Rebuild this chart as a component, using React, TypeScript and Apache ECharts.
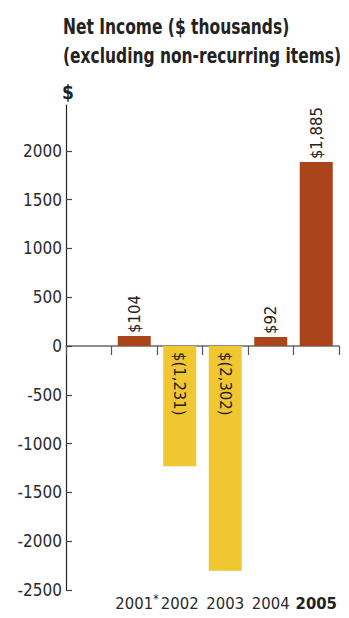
import React, { useEffect, useRef } from "react";
import * as echarts from "echarts";

const categories = ["", "2001", "2002", "2003", "2004", "2005"];
const netIncome: (number | null)[] = [null, 104, -1231, -2302, 92, 1885];
const yTickValues = [-2500, -2000, -1500, -1000, -500, 0, 500, 1000, 1500, 2000];
const titleLines = ["Net Income ($ thousands)", "(excluding non-recurring items)"];
const unitLabel = "$";

const FONT = "'DejaVu Sans Condensed', 'Liberation Sans Narrow', sans-serif";
const POS_COLOR = "#A9441B";
const NEG_COLOR = "#F0C631";
const TEXT = "#2a2a2a";

function fmtMoney(v: number): string {
  const abs = Math.abs(v).toLocaleString("en-US");
  return v < 0 ? `$(${abs})` : `$${abs}`;
}

export default function App() {
  const ref = useRef<HTMLDivElement>(null);
  useEffect(() => {
    if (!ref.current) return;
    const chart = echarts.init(ref.current, null, { renderer: "svg" });
    const data = netIncome.map((v) => {
      if (v === null) return { value: null };
      const pos = v >= 0;
      return {
        value: v,
        itemStyle: { color: pos ? POS_COLOR : NEG_COLOR },
        label: pos
          ? { position: "top", distance: 3, rotate: 90, align: "left", verticalAlign: "middle" }
          : { position: "insideTop", distance: 6, rotate: -90, align: "left", verticalAlign: "middle" },
      };
    });
    chart.setOption({
      animation: false,
      graphic: [
        {
          type: "text",
          x: 63,
          y: 16,
          scaleX: 0.82,
          style: { text: titleLines[0], fontFamily: FONT, fontSize: 21, fontWeight: "bold", fill: "#222" },
        },
        {
          type: "text",
          x: 63,
          y: 45,
          scaleX: 0.82,
          style: { text: titleLines[1], fontFamily: FONT, fontSize: 21, fontWeight: "bold", fill: "#222" },
        },
        {
          type: "text",
          x: 62,
          y: 82,
          style: { text: unitLabel, fontFamily: FONT, fontSize: 19, fontWeight: "bold", fill: "#222" },
        },
      ],
      grid: { left: 66, right: 10, top: 105, bottom: 28, containLabel: false },
      xAxis: [
        {
          type: "category",
          data: categories,
          position: "bottom",
          axisLine: { show: true, onZero: true, lineStyle: { color: "#6a6a6a", width: 1.5 } },
          axisTick: { show: true, length: 9, lineStyle: { color: "#555", width: 1.2 } },
          axisLabel: { show: false },
          splitLine: { show: false },
        },
        {
          type: "category",
          data: categories,
          position: "bottom",
          axisLine: { show: false, onZero: false },
          axisTick: { show: false },
          splitLine: { show: false },
          axisLabel: {
            margin: 3,
            interval: 0,
            formatter: (v: string) => {
              if (v === "2001") return "{h|*}{n|2001}{s|*}";
              if (v === "2005") return "{b|2005}";
              return "{n|" + v + "}";
            },
            rich: {
              n: { fontFamily: FONT, fontSize: 16.5, color: TEXT, lineHeight: 20 },
              b: { fontFamily: FONT, fontSize: 16.5, fontWeight: "bold", color: "#222", lineHeight: 20 },
              s: { fontFamily: FONT, fontSize: 12, color: TEXT, lineHeight: 10, verticalAlign: "top" },
              h: { fontFamily: FONT, fontSize: 12, color: "rgba(0,0,0,0)", lineHeight: 10, verticalAlign: "top" },
            },
          },
        },
      ],
      yAxis: {
        type: "value",
        min: -2500,
        max: 2470,
        interval: 500,
        splitLine: { show: false },
        axisLine: { show: true, lineStyle: { color: "#222", width: 1.2 } },
        axisTick: { show: true, inside: true, length: 6, customValues: yTickValues, lineStyle: { color: "#444", width: 1.2 } },
        axisLabel: {
          margin: 4,
          customValues: yTickValues,
          formatter: (v: number) => String(v),
          fontFamily: FONT,
          fontSize: 17,
          color: TEXT,
        },
      },
      series: [
        {
          type: "bar",
          xAxisIndex: 0,
          data,
          barWidth: 33,
          label: {
            show: true,
            fontFamily: FONT,
            fontSize: 16.5,
            color: "#222",
            formatter: (p: any) => (p.value === null || p.value === undefined ? "" : fmtMoney(p.value)),
          },
        },
      ],
    });
    return () => chart.dispose();
  }, []);
  return (
    <div
      ref={ref}
      style={{ position: "fixed", left: 0, top: 0, width: 349, height: 618, background: "#fff" }}
    />
  );
}
